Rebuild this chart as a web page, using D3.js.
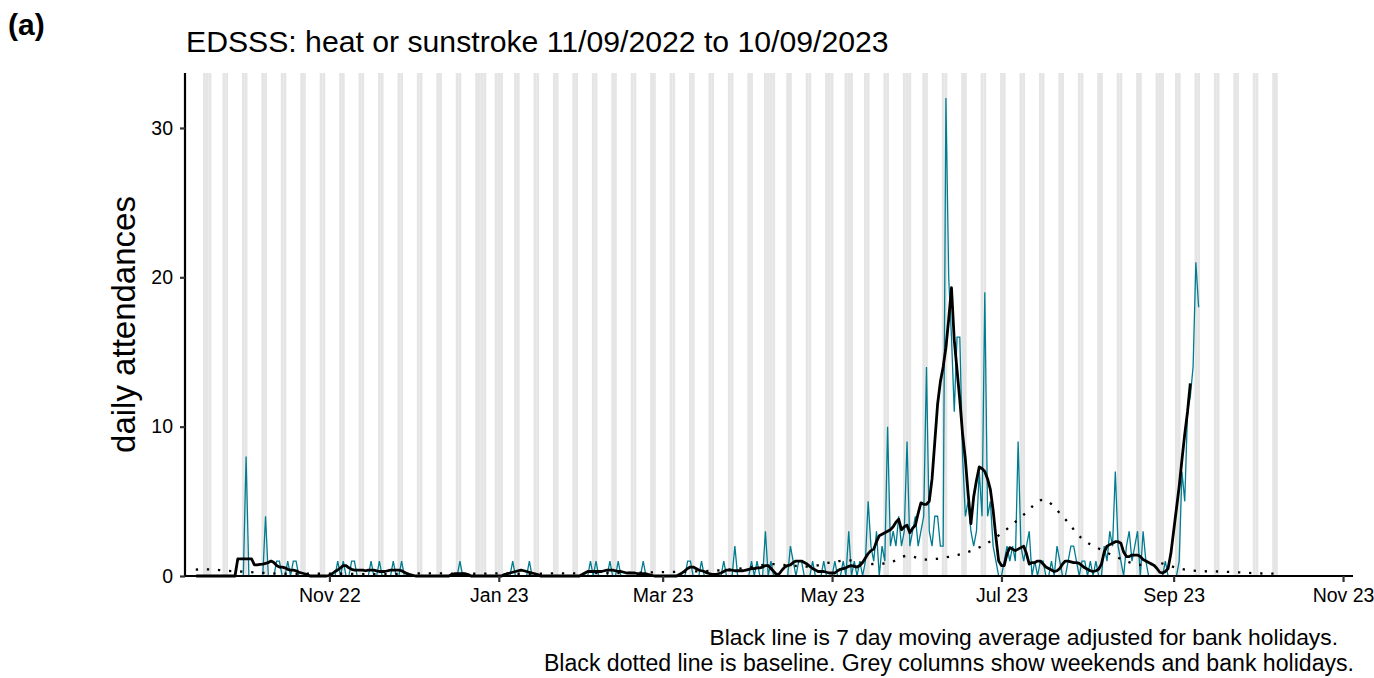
<!DOCTYPE html>
<html><head><meta charset="utf-8">
<script src="https://cdn.jsdelivr.net/npm/d3@7"></script>
<style>
body{margin:0;background:#fff;}
svg{display:block;font-family:"Liberation Sans",Arial,sans-serif;}
</style>
</head><body>
<svg id="chart" width="1374" height="678"></svg>
<script>
// ---------------- data ----------------
const startDate = "2022-09-11"; // first day of daily series
const dailyCounts = [
  0,0,0,0,0,0,0,0,0,0,
  0,0,0,0,0,0,0,0,0,0,
  0,8,0,0,0,0,0,0,4,0,
  0,0,1,1,0,0,1,0,1,1,
  0,0,0,0,0,0,0,0,0,0,
  0,0,0,0,1,0,1,0,0,1,
  1,0,0,0,0,0,1,0,0,1,
  0,0,0,0,1,0,0,1,0,0,
  0,0,0,0,0,0,0,0,0,0,
  0,0,0,0,0,0,0,0,1,0,
  0,0,0,0,0,0,0,0,0,0,
  0,0,0,0,0,0,0,1,0,0,
  0,0,0,1,0,0,0,0,0,0,
  0,0,0,0,0,0,0,0,0,0,
  0,0,0,0,0,1,0,1,0,0,
  0,0,1,0,0,1,0,0,0,0,
  0,0,0,0,1,0,0,0,0,0,
  0,0,0,0,0,0,0,0,0,0,
  1,1,0,0,0,1,0,0,0,0,
  0,0,0,1,0,0,0,2,0,0,
  0,0,0,1,0,1,0,0,3,0,
  1,0,0,0,0,0,0,2,1,0,
  1,1,0,0,0,1,0,0,0,1,
  0,0,0,1,0,0,1,0,3,0,
  1,0,1,0,1,5,2,1,3,0,
  2,1,10,2,3,2,4,2,3,9,
  2,3,4,2,3,4,14,3,2,4,
  4,2,2,32,20,16,11,16,16,8,
  4,5,3,2,3,7,4,19,4,5,
  2,1,0,0,1,2,1,2,1,9,
  2,1,2,3,0,1,0,1,1,0,
  0,1,0,2,1,0,0,1,2,2,
  1,0,1,1,0,1,0,1,0,0,
  2,1,3,2,7,2,1,0,2,3,
  1,2,3,0,3,1,0,0,0,0,
  0,0,1,0,0,0,0,1,7,5,
  11,12,14,21,18
];
const movingAverage = [
  null,null,null,0,0,0,0,0,0,0,
  0,0,0,0,0,0,0,0,1.14,1.14,
  1.14,1.14,1.14,1.14,0.74,0.74,0.78,0.8,0.85,0.9,
  1.0,0.9,0.7,0.6,0.6,0.55,0.45,0.4,0.4,0.35,
  0.25,0.2,0.15,0.1,0,0,0,0,0,0,
  0,0.05,0.15,0.3,0.4,0.55,0.7,0.7,0.55,0.45,
  0.4,0.4,0.4,0.4,0.35,0.4,0.4,0.4,0.35,0.3,
  0.3,0.3,0.35,0.4,0.4,0.4,0.4,0.35,0.25,0.15,
  0.1,0.05,0,0,0,0,0,0,0,0,
  0,0,0,0,0,0.1,0.15,0.15,0.15,0.15,
  0.15,0.1,0,0,0,0,0,0,0,0,
  0,0,0,0,0.1,0.15,0.2,0.25,0.3,0.35,
  0.4,0.35,0.3,0.25,0.2,0.15,0.1,0,0,0,
  0,0,0,0,0,0,0,0,0,0,
  0,0,0.1,0.2,0.3,0.3,0.3,0.3,0.3,0.3,
  0.35,0.4,0.4,0.4,0.35,0.3,0.3,0.25,0.2,0.2,
  0.2,0.2,0.15,0.15,0.15,0.15,0.1,0.05,0,0,
  0,0,0,0,0,0,0,0.1,0.2,0.35,
  0.5,0.6,0.6,0.5,0.4,0.35,0.3,0.2,0.15,0.1,
  0.1,0.15,0.2,0.3,0.4,0.4,0.4,0.35,0.35,0.35,
  0.35,0.4,0.45,0.5,0.5,0.55,0.55,0.6,0.7,0.7,
  0.5,0.3,0.1,0.15,0.4,0.6,0.7,0.75,0.9,1.0,
  1.0,1.0,0.9,0.8,0.65,0.5,0.4,0.3,0.3,0.3,
  0.25,0.2,0.2,0.2,0.35,0.45,0.5,0.55,0.65,0.7,
  0.65,0.6,0.7,0.9,1.2,1.5,1.7,1.8,2.3,2.7,
  2.8,2.9,3.0,3.1,3.3,3.6,3.8,3.1,3.3,3.4,
  2.9,3.2,3.4,4.2,4.9,4.8,4.8,5.0,6.5,9.0,
  11.5,13.0,14.0,15.3,17.2,19.3,15.8,13.8,11.8,9.5,
  7.8,5.5,3.5,5.3,6.4,7.3,7.2,7.0,6.5,5.8,
  4.4,2.6,1.0,0.7,0.7,1.5,1.9,1.8,1.7,1.8,
  1.9,2.0,1.5,0.8,0.9,0.9,1.0,1.0,0.8,0.6,
  0.5,0.4,0.3,0.35,0.5,0.8,1.0,1.0,0.95,0.9,
  0.9,0.85,0.7,0.55,0.45,0.35,0.3,0.35,0.45,0.8,
  1.6,2.0,2.1,2.2,2.3,2.3,2.2,1.6,1.3,1.3,
  1.4,1.4,1.4,1.3,1.1,1.0,0.9,0.8,0.7,0.5,
  0.25,0.2,0.3,0.5,1.5,3.0,4.5,6.0,7.8,9.5,
  11.0,12.9,null,null,null
];
const baselineStart = "2022-09-11"; // weekly baseline values
const baselineWeekly = [
  0.4,0.45,0.35,0.28,0.2,0.15,0.15,0.15,0.15,0.12,
  0.12,0.15,0.18,0.18,0.15,0.15,0.18,0.15,0.15,0.18,
  0.18,0.2,0.2,0.22,0.25,0.27,0.3,0.35,0.45,0.6,
  0.8,0.7,0.63,0.9,1.05,0.8,0.85,1.35,1.1,1.25,
  1.55,2.1,3.0,4.1,5.1,4.0,2.5,1.75,1.15,0.75,
  0.85,0.5,0.33,0.3,0.25,0.18,0.15
];
const shadedRange = ["2022-09-17", "2023-10-08"];
const bankHolidays = ["2022-09-19","2022-12-26","2022-12-27","2023-01-02","2023-04-07",
                      "2023-04-10","2023-05-01","2023-05-08","2023-05-29","2023-08-28"];
const xTickDates = ["2022-11-01","2023-01-01","2023-03-01","2023-05-01","2023-07-01","2023-09-01","2023-11-01"];
const xTickLabels = ["Nov 22","Jan 23","Mar 23","May 23","Jul 23","Sep 23","Nov 23"];
const yTicks = [0,10,20,30];
const titleText = "EDSSS: heat or sunstroke 11/09/2022 to 10/09/2023";
const panelLabel = "(a)";
const yTitle = "daily attendances";
const captionLines = ["Black line is 7 day moving average adjusted for bank holidays.",
                      "Black dotted line is baseline. Grey columns show weekends and bank holidays."];

(function draw() {
  const pL = 185, pR = 1353, pT = 73, pB = 576;
  const parse = d3.utcParse("%Y-%m-%d");
  const day0 = parse(startDate);
  const svg = d3.select("#chart");

  const x = d3.scaleUtc()
    .domain([Date.UTC(2022,8,10), Date.UTC(2023,10,4,14)])
    .range([pL, pR]);
  const y = d3.scaleLinear().domain([0, 33.68]).range([pB, pT]);

  // grey columns
  const hol = new Set(bankHolidays);
  const fmt = d3.utcFormat("%Y-%m-%d");
  const shadeDays = d3.utcDay.range(parse(shadedRange[0]), d3.utcDay.offset(parse(shadedRange[1]), 1))
    .filter(d => d.getUTCDay() === 0 || d.getUTCDay() === 6 || hol.has(fmt(d)));
  svg.append("g").selectAll("rect").data(shadeDays).join("rect")
    .attr("x", d => x(d3.utcHour.offset(d, -12)))
    .attr("width", d => x(d3.utcHour.offset(d, 12)) - x(d3.utcHour.offset(d, -12)))
    .attr("y", pT).attr("height", pB - pT)
    .attr("fill", "#e5e5e5");

  // daily counts
  const daily = dailyCounts.map((v, i) => ({date: d3.utcDay.offset(day0, i), v}));
  svg.append("path").datum(daily)
    .attr("fill", "none").attr("stroke", "#007C91").attr("stroke-width", 1.3)
    .attr("d", d3.line().x(d => x(d.date)).y(d => y(d.v)));

  // moving average
  const ma = movingAverage.map((v, i) => ({date: d3.utcDay.offset(day0, i), v}));
  svg.append("path").datum(ma)
    .attr("fill", "none").attr("stroke", "#000").attr("stroke-width", 2.8)
    .attr("stroke-linejoin", "round")
    .attr("d", d3.line().defined(d => d.v !== null).x(d => x(d.date)).y(d => y(d.v)));

  // baseline
  const bStart = parse(baselineStart);
  const base = baselineWeekly.map((v, k) => ({date: d3.utcDay.offset(bStart, 7 * k), v}));
  svg.append("path").datum(base)
    .attr("fill", "none").attr("stroke", "#000").attr("stroke-width", 2.3)
    .attr("stroke-dasharray", "2.3,8.8").attr("stroke-dashoffset", -8)
    .attr("d", d3.line().curve(d3.curveMonotoneX).x(d => x(d.date)).y(d => y(d.v)));

  // axes
  const xAxis = d3.axisBottom(x)
    .tickValues(xTickDates.map(parse))
    .tickFormat((d, i) => xTickLabels[i])
    .tickSize(6).tickSizeOuter(0).tickPadding(6);
  const gx = svg.append("g").attr("transform", `translate(0,${pB})`).call(xAxis);
  const yAxis = d3.axisLeft(y).tickValues(yTicks).tickSize(5).tickSizeOuter(0).tickPadding(7);
  const gy = svg.append("g").attr("transform", `translate(${pL},0)`).call(yAxis);
  [gx, gy].forEach(g => {
    g.select(".domain").attr("stroke", "#000").attr("stroke-width", 2.2);
    g.selectAll(".tick line").attr("stroke", "#333").attr("stroke-width", 2.2);
    g.selectAll(".tick text").attr("fill", "#000").style("font-size", "19.5px")
     .style("font-family", '"Liberation Sans", Arial, sans-serif');
  });
  gy.select(".domain").attr("d", `M0,${pT}V${pB + 1}`);
  gx.select(".domain").attr("d", `M${pL - 1},0H${pR}`);

  // texts
  svg.append("text").attr("x", 8).attr("y", 35).attr("font-weight", "bold")
    .attr("font-size", 30).text(panelLabel);
  svg.append("text").attr("x", 186).attr("y", 52).attr("font-size", 30.2).text(titleText);
  svg.append("text").attr("transform", `translate(135,${(pT + pB) / 2}) rotate(-90)`)
    .attr("text-anchor", "middle").attr("font-size", 33).text(yTitle);
  svg.append("text").attr("x", 1338).attr("y", 645).attr("text-anchor", "end")
    .attr("font-size", 22.8).text(captionLines[0]);
  svg.append("text").attr("x", 1354).attr("y", 671).attr("text-anchor", "end")
    .attr("font-size", 23.1).text(captionLines[1]);
})();
</script>
</body></html>
